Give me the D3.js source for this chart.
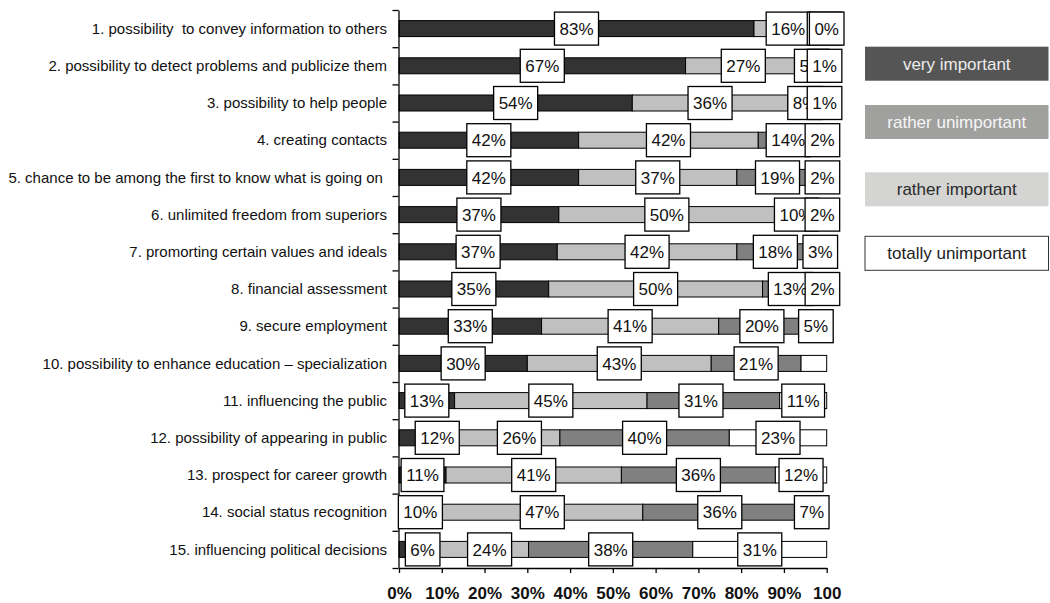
<!DOCTYPE html>
<html>
<head>
<meta charset="utf-8">
<script src="https://cdn.jsdelivr.net/npm/d3@7"></script>
<style>
  html, body { margin: 0; padding: 0; background: #fff; }
  svg { display: block; font-family: Arial, "Liberation Sans", Helvetica, sans-serif; }
  .cat { white-space: pre; }
</style>
</head>
<body>
<svg id="chart" width="1050" height="603"></svg>
<script>
// Motives for the profession: share of answers per item
const categories = [
  "1. possibility  to convey information to others",
  "2. possibility to detect problems and publicize them",
  "3. possibility to help people",
  "4. creating contacts",
  "5. chance to be among the first to know what is going on ",
  "6. unlimited freedom from superiors",
  "7. promorting certain values and ideals",
  "8. financial assessment",
  "9. secure employment",
  "10. possibility to enhance education \u2013 specialization",
  "11. influencing the public",
  "12. possibility of appearing in public",
  "13. prospect for career growth",
  "14. social status recognition",
  "15. influencing political decisions"
];
const veryImportant      = [83, 67, 54, 42, 42, 37, 37, 35, 33, 30, 13, 12, 11, 10, 6];
const ratherImportant    = [16, 27, 36, 42, 37, 50, 42, 50, 41, 43, 45, 26, 41, 47, 24];
const ratherUnimportant  = [1, 5, 8, 14, 19, 10, 18, 13, 20, 21, 31, 40, 36, 36, 38];
const totallyUnimportant = [0, 1, 1, 2, 2, 2, 3, 2, 5, 6, 11, 23, 12, 7, 31];

const seriesNames = ["very important", "rather important", "rather unimportant", "totally unimportant"];
const legendOrder = ["very important", "rather unimportant", "rather important", "totally unimportant"];
const xTickLabels = ["0%", "10%", "20%", "30%", "40%", "50%", "60%", "70%", "80%", "90%", "100"];

// bar segment fills
const barFill = {
  "very important": "#333333",
  "rather important": "#c0c0c0",
  "rather unimportant": "#808080",
  "totally unimportant": "#ffffff"
};
// legend swatches
const legendFill = {
  "very important": "#545554",
  "rather unimportant": "#a0a09f",
  "rather important": "#d4d4d3",
  "totally unimportant": "#ffffff"
};
const legendText = {
  "very important": "#ececec",
  "rather unimportant": "#f6f6f6",
  "rather important": "#2a2a2a",
  "totally unimportant": "#222222"
};
const legendTop = [46.7, 105, 172.3, 236.3];

// value-label placement tweaks (share of axis) and labels left out
const labelShift = { "10|2": -0.029, "11|0": 0.03, "11|1": 0.034, "14|0": 0.025, "14|1": 0.03 };
const labelHidden = new Set(["9|3"]);

const rows = categories.map((c, i) => ({
  category: c,
  "very important": veryImportant[i],
  "rather important": ratherImportant[i],
  "rather unimportant": ratherUnimportant[i],
  "totally unimportant": totallyUnimportant[i]
}));

// 100% stacked: each row is scaled to its own total
const stacked = d3.stack().keys(seriesNames).offset(d3.stackOffsetExpand)(rows);

const svg = d3.select("#chart");

const x = d3.scaleLinear().domain([0, 1]).range([399, 826.7]);
const y = d3.scaleBand().domain(categories).range([10, 568]);
const yEdge = d3.scaleLinear().domain([0, categories.length]).range([10, 568]);
const barH = 16;
const boxH = 33;

// bar segments
const seriesG = svg.append("g")
  .selectAll("g")
  .data(stacked)
  .join("g")
  .attr("fill", d => barFill[d.key]);

seriesG.selectAll("rect")
  .data(d => d)
  .join("rect")
  .attr("x", d => x(d[0]))
  .attr("width", d => Math.max(0, x(d[1]) - x(d[0])))
  .attr("y", d => y(d.data.category) + y.bandwidth() / 2 - barH / 2)
  .attr("height", barH)
  .attr("stroke", "#000")
  .attr("stroke-width", 1);

// y axis: ticks at the band edges
const yAxis = svg.append("g")
  .attr("transform", "translate(398.5,0)")
  .call(d3.axisLeft(yEdge).tickValues(d3.range(categories.length + 1)).tickSize(6).tickSizeOuter(0).tickFormat(""));
yAxis.selectAll("path, line").attr("stroke", "#000").attr("stroke-width", 1.3);

// category names
svg.append("g")
  .selectAll("text")
  .data(categories)
  .join("text")
  .attr("class", "cat")
  .attr("x", 387)
  .attr("y", d => y(d) + y.bandwidth() / 2)
  .attr("dy", "0.35em")
  .attr("text-anchor", "end")
  .attr("font-size", 15)
  .attr("fill", "#111")
  .text(d => d);

// x axis
const xAxis = svg.append("g")
  .attr("transform", "translate(0,568)")
  .call(d3.axisBottom(x)
    .tickValues(d3.range(0, 11).map(i => i / 10))
    .tickFormat((d, i) => xTickLabels[i])
    .tickSize(5).tickSizeOuter(0).tickPadding(14));
xAxis.selectAll("path, line").attr("stroke", "#000").attr("stroke-width", 1.3);
xAxis.selectAll("text")
  .attr("font-size", 17)
  .attr("font-weight", "bold")
  .attr("font-family", "Arial, 'Liberation Sans', sans-serif")
  .attr("fill", "#111");

// value labels in boxes, one series after another
const labelLayer = svg.append("g");
stacked.forEach((series, si) => {
  series.forEach((seg, ri) => {
    const key = ri + "|" + si;
    if (labelHidden.has(key)) return;
    const cx = x((seg[0] + seg[1]) / 2 + (labelShift[key] || 0));
    const cy = y(seg.data.category) + y.bandwidth() / 2;
    const g = labelLayer.append("g");
    const rect = g.append("rect")
      .attr("fill", "#fff")
      .attr("stroke", "#000")
      .attr("stroke-width", 1.3);
    const t = g.append("text")
      .attr("x", cx)
      .attr("y", cy)
      .attr("dy", "0.36em")
      .attr("text-anchor", "middle")
      .attr("font-size", 17)
      .attr("fill", "#111")
      .text(seg.data[series.key] + "%");
    const w = t.node().getComputedTextLength() + 10;
    rect.attr("x", cx - w / 2).attr("y", cy - boxH / 2).attr("width", w).attr("height", boxH);
  });
});

// legend
const legend = svg.append("g")
  .selectAll("g")
  .data(legendOrder)
  .join("g")
  .attr("transform", (d, i) => `translate(865,${legendTop[i]})`);

legend.append("rect")
  .attr("width", 183.5)
  .attr("height", 34)
  .attr("fill", d => legendFill[d])
  .attr("stroke", d => d === "totally unimportant" ? "#333" : "none")
  .attr("stroke-width", 1);

legend.append("text")
  .attr("x", 183.5 / 2)
  .attr("y", 17)
  .attr("dy", "0.35em")
  .attr("text-anchor", "middle")
  .attr("font-size", 17)
  .attr("fill", d => legendText[d])
  .text(d => d);
</script>
</body>
</html>
